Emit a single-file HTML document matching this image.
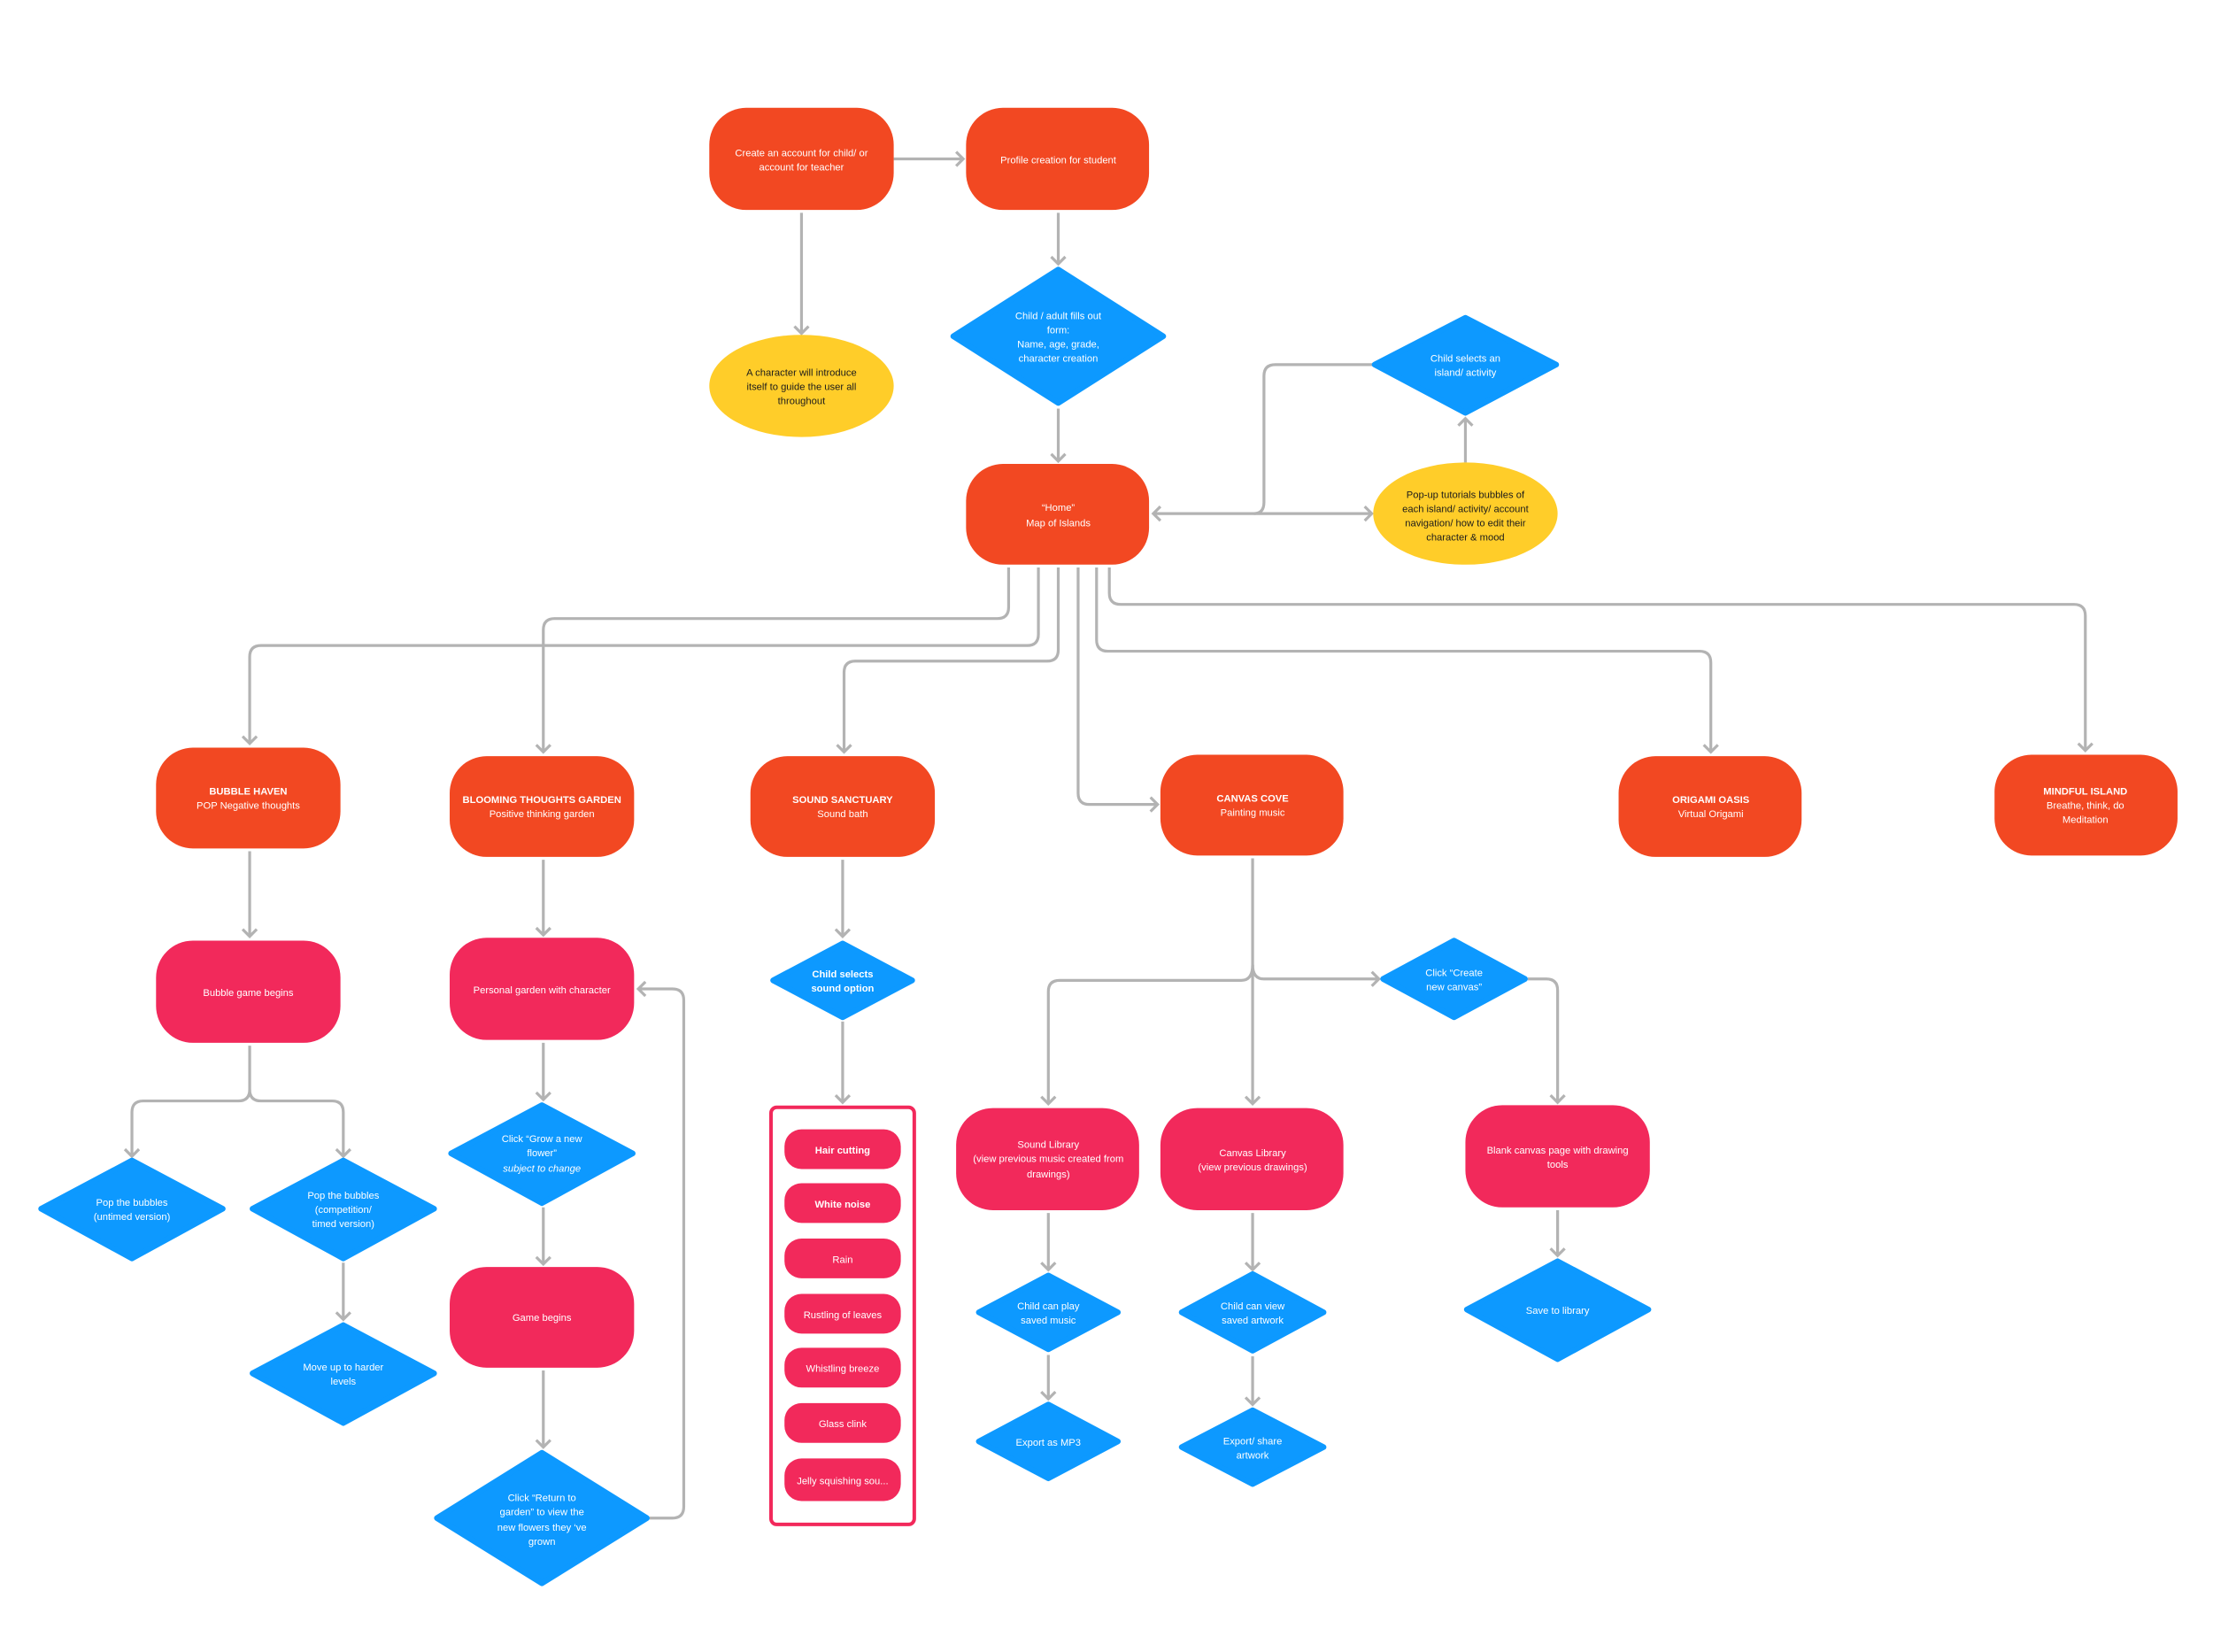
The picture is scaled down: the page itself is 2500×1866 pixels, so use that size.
<!DOCTYPE html>
<html><head><meta charset="utf-8"><style>
html,body{margin:0;padding:0;background:#fff;}
svg{display:block;}
text{font-family:"Liberation Sans",sans-serif;font-size:7px;fill:#fff;text-anchor:middle;}
.d{fill:#1b1b1b;}
.b{font-weight:bold;}
.ln{fill:none;stroke:#b3b3b3;stroke-width:2;}
.o{fill:#F24822;} .p{fill:#F2295B;} .y{fill:#FFCD29;}
.bl{fill:#0D99FF;stroke:#0D99FF;stroke-width:4;stroke-linejoin:round;}
</style></head><body>
<svg width="2500" height="1866" viewBox="0 0 1560 1164.4" preserveAspectRatio="none" xmlns="http://www.w3.org/2000/svg">
<defs>
<marker id="a" markerUnits="userSpaceOnUse" markerWidth="12" markerHeight="12" refX="6" refY="6" orient="auto-start-reverse" viewBox="0 0 12 12">
<path d="M1,1 L6,6 L1,11" fill="none" stroke="#b3b3b3" stroke-width="2"/>
</marker>
</defs>

<!-- connectors -->
<path class="ln" d="M630,112 H679" marker-end="url(#a)"/>
<path class="ln" d="M565,150 V235" marker-end="url(#a)"/>
<path class="ln" d="M746,150 V186" marker-end="url(#a)"/>
<path class="ln" d="M746,288 V325" marker-end="url(#a)"/>
<path class="ln" d="M1033,326 V295" marker-end="url(#a)"/>
<path class="ln" d="M813,362 H967" marker-start="url(#a)" marker-end="url(#a)"/>
<path class="ln" d="M884,362 Q891,362 891,354 V265 Q891,257 899,257 H968"/>
<path class="ln" d="M711,400 V428 Q711,436 703,436 H391 Q383,436 383,444 V530" marker-end="url(#a)"/>
<path class="ln" d="M732,400 V447 Q732,455 724,455 H184 Q176,455 176,463 V524" marker-end="url(#a)"/>
<path class="ln" d="M746,400 V458 Q746,466 738,466 H603 Q595,466 595,474 V530" marker-end="url(#a)"/>
<path class="ln" d="M760,400 V559 Q760,567 768,567 H816" marker-end="url(#a)"/>
<path class="ln" d="M773,400 V451 Q773,459 781,459 H1198 Q1206,459 1206,467 V530" marker-end="url(#a)"/>
<path class="ln" d="M782,400 V418 Q782,426 790,426 H1462 Q1470,426 1470,434 V529" marker-end="url(#a)"/>

<path class="ln" d="M176,600 V660" marker-end="url(#a)"/>
<path class="ln" d="M176,737 V768 Q176,776 168,776 H101 Q93,776 93,784 V815" marker-end="url(#a)"/>
<path class="ln" d="M176,768 Q176,776 184,776 H234 Q242,776 242,784 V815" marker-end="url(#a)"/>
<path class="ln" d="M242,890 V930" marker-end="url(#a)"/>

<path class="ln" d="M383,606 V659" marker-end="url(#a)"/>
<path class="ln" d="M383,735 V775" marker-end="url(#a)"/>
<path class="ln" d="M383,851 V891" marker-end="url(#a)"/>
<path class="ln" d="M383,966 V1020" marker-end="url(#a)"/>
<path class="ln" d="M458,1070 H474 Q482,1070 482,1062 V705 Q482,697 474,697 H450" marker-end="url(#a)"/>

<path class="ln" d="M594,606 V660" marker-end="url(#a)"/>
<path class="ln" d="M594,720 V777" marker-end="url(#a)"/>

<path class="ln" d="M883,605 V778" marker-end="url(#a)"/>
<path class="ln" d="M883,680 Q883,691 875,691 H747 Q739,691 739,699 V778" marker-end="url(#a)"/>
<path class="ln" d="M883,680 Q883,690 891,690 H972" marker-end="url(#a)"/>
<path class="ln" d="M1077,690 H1090 Q1098,690 1098,698 V777" marker-end="url(#a)"/>
<path class="ln" d="M739,855 V895" marker-end="url(#a)"/>
<path class="ln" d="M739,955 V986" marker-end="url(#a)"/>
<path class="ln" d="M883,855 V895" marker-end="url(#a)"/>
<path class="ln" d="M883,956 V990" marker-end="url(#a)"/>
<path class="ln" d="M1098,853 V885" marker-end="url(#a)"/>

<!-- top -->
<rect class="o" x="500" y="76" width="130" height="72" rx="26"/>
<text><tspan x="565" y="110">Create an account for child/ or</tspan><tspan x="565" y="120">account for teacher</tspan></text>
<rect class="o" x="681" y="76" width="129" height="72" rx="26"/>
<text x="746" y="115">Profile creation for student</text>
<ellipse class="y" cx="565" cy="272" rx="65" ry="36"/>
<text class="d"><tspan x="565" y="265">A character will introduce</tspan><tspan x="565" y="275">itself to guide the user all</tspan><tspan x="565" y="285">throughout</tspan></text>
<polygon class="bl" points="746,190 820,237 746,284 672,237"/>
<text><tspan x="746" y="225">Child / adult fills out</tspan><tspan x="746" y="235">form:</tspan><tspan x="746" y="245">Name, age, grade,</tspan><tspan x="746" y="255">character creation</tspan></text>
<rect class="o" x="681" y="327" width="129" height="71" rx="26"/>
<text><tspan x="746" y="360">“Home”</tspan><tspan x="746" y="371">Map of Islands</tspan></text>
<polygon class="bl" points="1033,224 1097,257 1033,291 969,257"/>
<text><tspan x="1033" y="255">Child selects an</tspan><tspan x="1033" y="265">island/ activity</tspan></text>
<ellipse class="y" cx="1033" cy="362" rx="65" ry="36"/>
<text class="d"><tspan x="1033" y="351">Pop-up tutorials bubbles of</tspan><tspan x="1033" y="361">each island/ activity/ account</tspan><tspan x="1033" y="371">navigation/ how to edit their</tspan><tspan x="1033" y="381">character &amp; mood</tspan></text>

<!-- islands -->
<rect class="o" x="110" y="527" width="130" height="71" rx="26"/>
<text><tspan class="b" x="175" y="560">BUBBLE HAVEN</tspan><tspan x="175" y="570">POP Negative thoughts</tspan></text>
<rect class="o" x="317" y="533" width="130" height="71" rx="26"/>
<text><tspan class="b" x="382" y="566">BLOOMING THOUGHTS GARDEN</tspan><tspan x="382" y="576">Positive thinking garden</tspan></text>
<rect class="o" x="529" y="533" width="130" height="71" rx="26"/>
<text><tspan class="b" x="594" y="566">SOUND SANCTUARY</tspan><tspan x="594" y="576">Sound bath</tspan></text>
<rect class="o" x="818" y="532" width="129" height="71" rx="26"/>
<text><tspan class="b" x="883" y="565">CANVAS COVE</tspan><tspan x="883" y="575">Painting music</tspan></text>
<rect class="o" x="1141" y="533" width="129" height="71" rx="26"/>
<text><tspan class="b" x="1206" y="566">ORIGAMI OASIS</tspan><tspan x="1206" y="576">Virtual Origami</tspan></text>
<rect class="o" x="1406" y="532" width="129" height="71" rx="26"/>
<text><tspan class="b" x="1470" y="560">MINDFUL ISLAND</tspan><tspan x="1470" y="570">Breathe, think, do</tspan><tspan x="1470" y="580">Meditation</tspan></text>

<!-- bubble -->
<rect class="p" x="110" y="663" width="130" height="72" rx="26"/>
<text x="175" y="702">Bubble game begins</text>
<polygon class="bl" points="93,818 157,852 93,887 29,852"/>
<text><tspan x="93" y="850">Pop the bubbles</tspan><tspan x="93" y="860">(untimed version)</tspan></text>
<polygon class="bl" points="242,818 306,852 242,887 178,852"/>
<text><tspan x="242" y="845">Pop the bubbles</tspan><tspan x="242" y="855">(competition/</tspan><tspan x="242" y="865">timed version)</tspan></text>
<polygon class="bl" points="242,934 306,968 242,1003 178,968"/>
<text><tspan x="242" y="966">Move up to harder</tspan><tspan x="242" y="976">levels</tspan></text>

<!-- blooming -->
<rect class="p" x="317" y="661" width="130" height="72" rx="26"/>
<text x="382" y="700">Personal garden with character</text>
<polygon class="bl" points="382,779 446,813 382,848 318,813"/>
<text><tspan x="382" y="805">Click “Grow a new</tspan><tspan x="382" y="815">flower”</tspan><tspan x="382" y="826" font-style="italic">subject to change</tspan></text>
<rect class="p" x="317" y="893" width="130" height="71" rx="26"/>
<text x="382" y="931">Game begins</text>
<polygon class="bl" points="382,1024 456,1070 382,1116 308,1070"/>
<text><tspan x="382" y="1058">Click “Return to</tspan><tspan x="382" y="1068">garden” to view the</tspan><tspan x="382" y="1079">new flowers they ‘ve</tspan><tspan x="382" y="1089">grown</tspan></text>

<!-- sound -->
<polygon class="bl" points="594,665 643,691 594,717 545,691"/>
<text class="b"><tspan x="594" y="689">Child selects</tspan><tspan x="594" y="699">sound option</tspan></text>
<rect x="543.5" y="780.5" width="101" height="294" rx="4" fill="none" stroke="#F2295B" stroke-width="2.5"/>
<rect class="p" x="553" y="796" width="82" height="28" rx="12"/><text class="b" x="594" y="813">Hair cutting</text>
<rect class="p" x="553" y="834" width="82" height="28" rx="12"/><text class="b" x="594" y="851">White noise</text>
<rect class="p" x="553" y="873" width="82" height="28" rx="12"/><text x="594" y="890">Rain</text>
<rect class="p" x="553" y="912" width="82" height="28" rx="12"/><text x="594" y="929">Rustling of leaves</text>
<rect class="p" x="553" y="950" width="82" height="28" rx="12"/><text x="594" y="967">Whistling breeze</text>
<rect class="p" x="553" y="989" width="82" height="28" rx="12"/><text x="594" y="1006">Glass clink</text>
<rect class="p" x="553" y="1028" width="82" height="30" rx="12"/><text x="594" y="1046">Jelly squishing sou...</text>

<!-- canvas -->
<polygon class="bl" points="1025,663 1075,690 1025,717 975,690"/>
<text><tspan x="1025" y="688">Click “Create</tspan><tspan x="1025" y="698">new canvas”</tspan></text>
<rect class="p" x="674" y="781" width="129" height="72" rx="26"/>
<text><tspan x="739" y="809">Sound Library</tspan><tspan x="739" y="819">(view previous music created from</tspan><tspan x="739" y="830">drawings)</tspan></text>
<rect class="p" x="818" y="781" width="129" height="72" rx="26"/>
<text><tspan x="883" y="815">Canvas Library</tspan><tspan x="883" y="825">(view previous drawings)</tspan></text>
<rect class="p" x="1033" y="779" width="130" height="72" rx="26"/>
<text><tspan x="1098" y="813">Blank canvas page with drawing</tspan><tspan x="1098" y="823">tools</tspan></text>
<polygon class="bl" points="739,899 788,925 739,951 690,925"/>
<text><tspan x="739" y="923">Child can play</tspan><tspan x="739" y="933">saved music</tspan></text>
<polygon class="bl" points="739,990 788,1016 739,1042 690,1016"/>
<text x="739" y="1019">Export as MP3</text>
<polygon class="bl" points="883,898 933,925 883,952 833,925"/>
<text><tspan x="883" y="923">Child can view</tspan><tspan x="883" y="933">saved artwork</tspan></text>
<polygon class="bl" points="883,994 933,1020 883,1046 833,1020"/>
<text><tspan x="883" y="1018">Export/ share</tspan><tspan x="883" y="1028">artwork</tspan></text>
<polygon class="bl" points="1098,889 1162,923 1098,958 1034,923"/>
<text x="1098" y="926">Save to library</text>
</svg>
</body></html>
